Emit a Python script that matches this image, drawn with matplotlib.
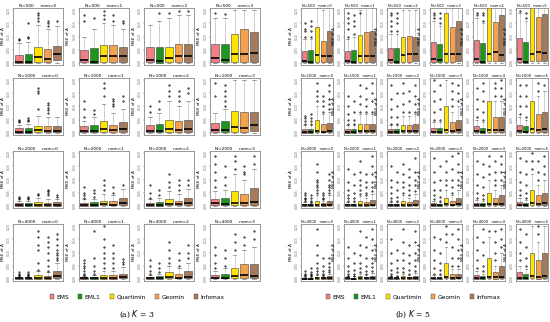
import matplotlib
matplotlib.use("Agg")
import matplotlib.pyplot as plt
from matplotlib.patches import Patch

plt.rcParams['font.family'] = ['DejaVu Sans']
plt.rcParams['mathtext.fontset'] = 'dejavusans'

methods = ['EMS', 'EML1', 'Quartimin', 'Geomin', 'Infomax']
colors = ['#F08080', '#1E961E', '#FFE300', '#F5A04A', '#A67B5B']
sample_sizes = [500, 1000, 2000, 4000]
lower_whisker = 0.0

# ---- K = 3 : rows = N, cols = nom 0..3, 5 methods per cell ----
k3_q1 = [
    [[0.001, 0.001, 0.003, 0.003, 0.010], [0.002, 0.001, 0.005, 0.005, 0.005], [0.002, 0.001, 0.002, 0.004, 0.004], [0.003, 0.002, 0.003, 0.003, 0.005]],
    [[0.001, 0.001, 0.002, 0.002, 0.002], [0.002, 0.002, 0.002, 0.002, 0.003], [0.002, 0.002, 0.003, 0.003, 0.003], [0.003, 0.002, 0.004, 0.004, 0.006]],
    [[0.001, 0.001, 0.001, 0.001, 0.001], [0.001, 0.001, 0.002, 0.002, 0.002], [0.001, 0.001, 0.002, 0.002, 0.003], [0.002, 0.002, 0.003, 0.003, 0.004]],
    [[0.001, 0.001, 0.001, 0.001, 0.002], [0.001, 0.001, 0.001, 0.001, 0.002], [0.001, 0.001, 0.002, 0.002, 0.002], [0.002, 0.002, 0.003, 0.004, 0.003]],
]
k3_med = [
    [[0.005, 0.005, 0.022, 0.015, 0.035], [0.010, 0.005, 0.026, 0.026, 0.025], [0.010, 0.007, 0.020, 0.025, 0.025], [0.018, 0.012, 0.032, 0.035, 0.038]],
    [[0.004, 0.004, 0.010, 0.008, 0.008], [0.006, 0.006, 0.015, 0.010, 0.013], [0.008, 0.008, 0.015, 0.012, 0.015], [0.012, 0.010, 0.022, 0.019, 0.029]],
    [[0.003, 0.003, 0.004, 0.004, 0.005], [0.004, 0.004, 0.006, 0.005, 0.010], [0.004, 0.004, 0.008, 0.006, 0.010], [0.010, 0.006, 0.010, 0.010, 0.016]],
    [[0.002, 0.002, 0.004, 0.003, 0.010], [0.002, 0.003, 0.004, 0.004, 0.006], [0.003, 0.003, 0.006, 0.005, 0.008], [0.005, 0.005, 0.010, 0.015, 0.010]],
]
k3_q3 = [
    [[0.030, 0.033, 0.062, 0.053, 0.063], [0.050, 0.058, 0.067, 0.067, 0.062], [0.060, 0.062, 0.062, 0.073, 0.070], [0.070, 0.070, 0.110, 0.130, 0.118]],
    [[0.017, 0.020, 0.028, 0.025, 0.025], [0.025, 0.030, 0.045, 0.030, 0.040], [0.030, 0.035, 0.050, 0.045, 0.050], [0.036, 0.046, 0.084, 0.079, 0.078]],
    [[0.010, 0.010, 0.013, 0.012, 0.013], [0.012, 0.013, 0.020, 0.017, 0.030], [0.012, 0.014, 0.025, 0.020, 0.030], [0.025, 0.029, 0.056, 0.046, 0.066]],
    [[0.004, 0.004, 0.015, 0.012, 0.030], [0.006, 0.008, 0.015, 0.015, 0.020], [0.008, 0.010, 0.025, 0.020, 0.030], [0.015, 0.020, 0.040, 0.055, 0.055]],
]
k3_whi = [
    [[0.075, 0.080, 0.145, 0.130, 0.140], [0.100, 0.130, 0.150, 0.145, 0.130], [0.145, 0.160, 0.170, 0.180, 0.180], [0.170, 0.170, 0.200, 0.200, 0.200]],
    [[0.030, 0.035, 0.065, 0.060, 0.060], [0.045, 0.060, 0.110, 0.075, 0.090], [0.060, 0.075, 0.120, 0.100, 0.120], [0.075, 0.090, 0.200, 0.200, 0.200]],
    [[0.020, 0.020, 0.030, 0.028, 0.028], [0.025, 0.028, 0.045, 0.040, 0.065], [0.025, 0.030, 0.055, 0.045, 0.065], [0.055, 0.060, 0.120, 0.100, 0.140]],
    [[0.008, 0.008, 0.030, 0.025, 0.060], [0.012, 0.015, 0.030, 0.030, 0.045], [0.015, 0.020, 0.050, 0.040, 0.060], [0.030, 0.040, 0.090, 0.110, 0.120]],
]
k3_fliers = [
    [[[0.085, 0.09], [0.095, 0.10, 0.15], [0.16, 0.17, 0.18, 0.19], [0.14, 0.15, 0.16], [0.16]],
     [[0.16, 0.18], [0.17], [0.165, 0.18, 0.195], [0.16, 0.18], [0.15, 0.16]],
     [[], [0.19], [0.19], [0.195], [0.195]],
     [[0.19], [0.185], [], [], []]],
    [[[0.04, 0.045, 0.05], [0.045, 0.05, 0.055], [0.09, 0.15, 0.16, 0.17], [0.075, 0.085, 0.095, 0.105, 0.115], []],
     [[0.06, 0.09, 0.12], [0.07, 0.085], [0.14, 0.17, 0.19], [0.10, 0.11, 0.12, 0.13], [0.12, 0.14]],
     [[0.08, 0.10], [0.09, 0.12], [0.14, 0.16, 0.18], [0.12, 0.14, 0.16], [0.15, 0.17]],
     [[0.14, 0.19], [0.10, 0.12, 0.14, 0.16, 0.18], [], [], []]],
    [[[0.025, 0.03, 0.035], [0.025, 0.03, 0.035], [0.04, 0.045], [0.04, 0.05, 0.055, 0.06], [0.035, 0.04]],
     [[0.03, 0.04, 0.05, 0.07], [0.035, 0.05, 0.06], [0.06, 0.08, 0.10], [0.05, 0.07], [0.08]],
     [[0.03, 0.05, 0.08], [0.04, 0.06], [0.07, 0.09, 0.12], [0.06, 0.08, 0.10], [0.08, 0.10]],
     [[0.07, 0.10, 0.13, 0.16, 0.19], [0.08, 0.11, 0.15], [0.14, 0.17, 0.19], [0.12, 0.13, 0.15], [0.16, 0.19]]],
    [[[0.012, 0.015, 0.02, 0.025], [0.012, 0.016, 0.02, 0.025], [0.035, 0.06, 0.11, 0.13, 0.16, 0.18],
      [0.03, 0.05, 0.07, 0.10, 0.12, 0.14, 0.16], [0.07, 0.08, 0.09, 0.10, 0.11, 0.13, 0.15, 0.17]],
     [[0.015, 0.02, 0.03, 0.04, 0.05, 0.06, 0.07], [0.02, 0.03, 0.05, 0.08, 0.18], [0.04, 0.06, 0.08, 0.10, 0.12, 0.15, 0.20],
      [0.04, 0.06, 0.08, 0.10, 0.13], [0.055, 0.065, 0.075]],
     [[0.02, 0.03, 0.05, 0.07], [0.025, 0.04, 0.06], [0.06, 0.08, 0.11, 0.14], [0.05, 0.07, 0.10], [0.08, 0.10, 0.13]],
     [[0.04, 0.06, 0.09, 0.12], [0.05, 0.08, 0.11], [0.11, 0.14, 0.17], [0.13, 0.16], [0.15, 0.18]]],
]

# ---- K = 5 : rows = N, cols = nom 0..5 ----
k5_q1 = [
    [[0.002, 0.001, 0.004, 0.004, 0.005], [0.002, 0.001, 0.004, 0.004, 0.005], [0.002, 0.001, 0.005, 0.005, 0.006],
     [0.003, 0.002, 0.005, 0.005, 0.006], [0.003, 0.001, 0.006, 0.006, 0.006], [0.003, 0.001, 0.006, 0.007, 0.007]],
    [[0.001, 0.001, 0.002, 0.002, 0.002], [0.001, 0.001, 0.002, 0.002, 0.002], [0.001, 0.001, 0.002, 0.002, 0.002],
     [0.002, 0.001, 0.003, 0.002, 0.003], [0.002, 0.001, 0.003, 0.003, 0.003], [0.002, 0.002, 0.004, 0.003, 0.004]],
    [[0.001, 0.001, 0.001, 0.001, 0.002], [0.001, 0.001, 0.001, 0.001, 0.002], [0.001, 0.001, 0.001, 0.001, 0.002],
     [0.001, 0.001, 0.002, 0.002, 0.002], [0.001, 0.001, 0.002, 0.002, 0.002], [0.002, 0.001, 0.003, 0.002, 0.003]],
    [[0.0005, 0.0005, 0.001, 0.001, 0.001], [0.0005, 0.0005, 0.001, 0.001, 0.001], [0.0005, 0.0005, 0.001, 0.001, 0.001],
     [0.001, 0.001, 0.002, 0.001, 0.002], [0.001, 0.001, 0.002, 0.001, 0.002], [0.001, 0.001, 0.002, 0.001, 0.002]],
]
k5_med = [
    [[0.006, 0.002, 0.030, 0.026, 0.027], [0.006, 0.004, 0.025, 0.026, 0.028], [0.010, 0.004, 0.030, 0.032, 0.032],
     [0.015, 0.010, 0.032, 0.032, 0.032], [0.015, 0.005, 0.035, 0.040, 0.030], [0.015, 0.005, 0.035, 0.042, 0.038]],
    [[0.004, 0.003, 0.006, 0.005, 0.008], [0.004, 0.003, 0.006, 0.006, 0.008], [0.004, 0.004, 0.007, 0.006, 0.008],
     [0.005, 0.004, 0.010, 0.008, 0.010], [0.006, 0.004, 0.012, 0.010, 0.012], [0.007, 0.005, 0.015, 0.012, 0.015]],
    [[0.003, 0.002, 0.004, 0.003, 0.005], [0.003, 0.002, 0.004, 0.004, 0.005], [0.003, 0.003, 0.004, 0.004, 0.005],
     [0.003, 0.003, 0.006, 0.005, 0.006], [0.004, 0.003, 0.008, 0.006, 0.008], [0.005, 0.004, 0.010, 0.008, 0.010]],
    [[0.001, 0.001, 0.002, 0.002, 0.003], [0.002, 0.001, 0.003, 0.002, 0.003], [0.002, 0.002, 0.003, 0.003, 0.004],
     [0.002, 0.002, 0.006, 0.004, 0.005], [0.004, 0.003, 0.008, 0.006, 0.008], [0.005, 0.004, 0.010, 0.008, 0.010]],
]
k5_q3 = [
    [[0.045, 0.047, 0.135, 0.083, 0.122], [0.045, 0.048, 0.106, 0.117, 0.120], [0.055, 0.055, 0.100, 0.103, 0.100],
     [0.078, 0.070, 0.190, 0.137, 0.160], [0.085, 0.075, 0.250, 0.155, 0.180], [0.095, 0.080, 0.250, 0.175, 0.185]],
    [[0.015, 0.015, 0.050, 0.035, 0.038], [0.015, 0.015, 0.032, 0.035, 0.035], [0.015, 0.015, 0.030, 0.030, 0.035],
     [0.020, 0.020, 0.100, 0.040, 0.050], [0.025, 0.020, 0.120, 0.060, 0.060], [0.030, 0.025, 0.120, 0.070, 0.080]],
    [[0.008, 0.006, 0.020, 0.010, 0.020], [0.008, 0.008, 0.018, 0.015, 0.022], [0.008, 0.008, 0.020, 0.015, 0.022],
     [0.010, 0.008, 0.030, 0.020, 0.030], [0.012, 0.010, 0.050, 0.030, 0.040], [0.015, 0.012, 0.060, 0.040, 0.050]],
    [[0.004, 0.004, 0.008, 0.006, 0.010], [0.005, 0.005, 0.010, 0.008, 0.012], [0.005, 0.005, 0.010, 0.008, 0.012],
     [0.005, 0.005, 0.060, 0.018, 0.018], [0.015, 0.010, 0.080, 0.025, 0.050], [0.025, 0.018, 0.100, 0.070, 0.100]],
]
k5_whi = [
    [[0.09, 0.09, 0.25, 0.20, 0.25], [0.09, 0.10, 0.20, 0.25, 0.25], [0.11, 0.11, 0.20, 0.20, 0.20],
     [0.16, 0.14, 0.25, 0.25, 0.25], [0.17, 0.15, 0.30, 0.30, 0.30], [0.19, 0.16, 0.30, 0.30, 0.30]],
    [[0.03, 0.03, 0.10, 0.07, 0.08], [0.03, 0.03, 0.07, 0.07, 0.07], [0.03, 0.03, 0.065, 0.065, 0.07],
     [0.04, 0.04, 0.20, 0.08, 0.10], [0.05, 0.04, 0.25, 0.12, 0.12], [0.06, 0.05, 0.25, 0.14, 0.16]],
    [[0.016, 0.012, 0.04, 0.02, 0.04], [0.016, 0.016, 0.036, 0.03, 0.044], [0.016, 0.016, 0.04, 0.03, 0.044],
     [0.02, 0.016, 0.06, 0.04, 0.06], [0.024, 0.02, 0.10, 0.06, 0.08], [0.03, 0.024, 0.12, 0.08, 0.10]],
    [[0.008, 0.008, 0.016, 0.012, 0.02], [0.01, 0.01, 0.02, 0.016, 0.024], [0.01, 0.01, 0.02, 0.016, 0.024],
     [0.016, 0.016, 0.12, 0.036, 0.036], [0.03, 0.02, 0.16, 0.05, 0.10], [0.05, 0.036, 0.20, 0.14, 0.20]],
]
k5_fliers = [
    [[[0.10, 0.12, 0.13, 0.15], [0.10, 0.12, 0.14, 0.16], [], [], []],
     [[0.10, 0.13, 0.15, 0.17, 0.19], [0.11, 0.14, 0.16, 0.18], [0.19], [], []],
     [[0.12, 0.14, 0.16, 0.18, 0.19], [0.12, 0.15, 0.17, 0.19], [], [], []],
     [[0.17, 0.18, 0.19], [0.15, 0.17, 0.19], [], [], []],
     [[0.18, 0.19], [0.16, 0.18, 0.19], [], [], []],
     [[0.195], [0.17, 0.19], [], [], []]],
    [[[0.035, 0.045, 0.055, 0.065], [0.035, 0.045, 0.055, 0.07], [0.12, 0.14, 0.16, 0.19], [0.08, 0.10, 0.12, 0.14], [0.09, 0.11, 0.13, 0.16, 0.18]],
     [[0.035, 0.05, 0.07, 0.10, 0.14], [0.035, 0.05, 0.08, 0.12], [0.08, 0.11, 0.14, 0.18], [0.08, 0.10, 0.13, 0.17], [0.08, 0.12, 0.15, 0.19]],
     [[0.035, 0.06, 0.09, 0.13, 0.18], [0.035, 0.06, 0.10, 0.15], [0.08, 0.11, 0.15, 0.19], [0.08, 0.12, 0.16], [0.08, 0.11, 0.14, 0.18]],
     [[0.05, 0.08, 0.12, 0.16, 0.20], [0.05, 0.09, 0.13, 0.18], [], [0.10, 0.13, 0.16, 0.19], [0.12, 0.15, 0.18]],
     [[0.06, 0.09, 0.13, 0.17], [0.05, 0.08, 0.12, 0.16, 0.19], [], [0.14, 0.17, 0.19], [0.14, 0.17, 0.20]],
     [[0.07, 0.10, 0.14, 0.18], [0.06, 0.10, 0.14, 0.18], [], [0.16, 0.19], [0.18]]],
    [[[0.02, 0.025, 0.03, 0.04, 0.05], [0.015, 0.02, 0.03, 0.04], [0.05, 0.06, 0.07, 0.08, 0.09, 0.10, 0.13, 0.16], [0.025, 0.03, 0.04, 0.05], [0.05, 0.06, 0.07, 0.08, 0.10, 0.12]],
     [[0.02, 0.03, 0.04, 0.06, 0.09, 0.14], [0.02, 0.03, 0.05, 0.08, 0.12], [0.045, 0.06, 0.08, 0.10, 0.13, 0.17], [0.04, 0.05, 0.07, 0.09, 0.12], [0.055, 0.07, 0.09, 0.12, 0.15, 0.19]],
     [[0.02, 0.03, 0.05, 0.07, 0.10, 0.15], [0.02, 0.035, 0.06, 0.09, 0.13], [0.05, 0.07, 0.09, 0.12, 0.16], [0.04, 0.06, 0.08, 0.11, 0.14], [0.055, 0.08, 0.10, 0.13, 0.18]],
     [[0.025, 0.04, 0.06, 0.09, 0.13, 0.18], [0.02, 0.035, 0.06, 0.10, 0.15], [0.08, 0.10, 0.13, 0.17], [0.05, 0.07, 0.10, 0.14, 0.19], [0.08, 0.10, 0.13, 0.16, 0.20]],
     [[0.03, 0.05, 0.08, 0.12, 0.17], [0.025, 0.04, 0.07, 0.11, 0.16], [0.12, 0.15, 0.19], [0.08, 0.10, 0.13, 0.17], [0.10, 0.13, 0.16, 0.19]],
     [[0.04, 0.06, 0.09, 0.13, 0.18], [0.03, 0.05, 0.08, 0.12, 0.17], [0.14, 0.17, 0.20], [0.10, 0.13, 0.17], [0.12, 0.15, 0.19]]],
    [[[0.01, 0.015, 0.02, 0.03], [0.01, 0.014, 0.02, 0.025, 0.04], [0.02, 0.03, 0.04, 0.06, 0.09, 0.13, 0.19], [0.015, 0.02, 0.03, 0.05, 0.08], [0.025, 0.035, 0.045, 0.06, 0.08]],
     [[0.012, 0.02, 0.03, 0.05, 0.08, 0.12], [0.012, 0.02, 0.035, 0.06, 0.10], [0.025, 0.04, 0.06, 0.09, 0.13, 0.18], [0.02, 0.03, 0.05, 0.08, 0.12, 0.16], [0.03, 0.045, 0.06, 0.08, 0.11, 0.15, 0.19]],
     [[0.012, 0.02, 0.035, 0.06, 0.10, 0.15], [0.012, 0.025, 0.04, 0.07, 0.11], [0.025, 0.04, 0.07, 0.10, 0.14, 0.19], [0.02, 0.035, 0.06, 0.09, 0.13], [0.03, 0.05, 0.07, 0.10, 0.14, 0.18]],
     [[0.02, 0.04, 0.07, 0.11, 0.16], [0.02, 0.035, 0.06, 0.10, 0.15], [0.14, 0.17, 0.20], [0.05, 0.08, 0.12, 0.17], [0.05, 0.08, 0.11, 0.15, 0.19]],
     [[0.04, 0.07, 0.11, 0.16], [0.03, 0.05, 0.09, 0.14, 0.19], [0.18], [0.07, 0.10, 0.14, 0.18], [0.12, 0.15, 0.19]],
     [[0.07, 0.10, 0.14, 0.19], [0.05, 0.08, 0.12, 0.17], [], [0.17, 0.20], []]],
]

W, H = 550, 322
fig = plt.figure(figsize=(W / 100, H / 100), dpi=100)

row_tops = [8, 78, 151, 224]
row_h = 57


def draw_cell(left, top, width, r, c, q1, med, q3, whi, fliers, title_fs, gap):
    ax = fig.add_axes([left / W, 1 - (top + row_h) / H, width / W, row_h / H])
    stats = []
    for m in range(5):
        stats.append(dict(q1=q1[r][c][m], med=med[r][c][m], q3=q3[r][c][m],
                          whislo=lower_whisker, whishi=whi[r][c][m],
                          fliers=fliers[r][c][m]))
    bp = ax.bxp(stats, positions=range(1, 6), widths=0.8, patch_artist=True,
                showfliers=True,
                boxprops=dict(linewidth=0.4, edgecolor='#444444'),
                medianprops=dict(color='black', linewidth=1.2),
                whiskerprops=dict(color='#555555', linewidth=0.4, linestyle=(0, (1, 1))),
                capprops=dict(color='#555555', linewidth=0.4),
                flierprops=dict(marker='o', markersize=1.0, markerfacecolor='none',
                                markeredgecolor='black', markeredgewidth=0.5))
    for patch, col in zip(bp['boxes'], colors):
        patch.set_facecolor(col)
    ax.set_xlim(0.4, 5.6)
    ax.set_ylim(-0.008, 0.208)
    ax.set_xticks([])
    ax.set_yticks([0, 0.05, 0.10, 0.15, 0.20])
    ax.set_yticklabels(['0.00', '0.05', '0.10', '0.15', '0.20'], rotation=90,
                       va='center', fontsize=2.2, color='#444444')
    ax.tick_params(axis='y', length=1.0, width=0.3, pad=0.4, colors='#666666')
    ax.set_ylabel(r'MSE of $\hat{A}$', fontsize=3.0, labelpad=0.3)
    ax.set_title(f'N={sample_sizes[r]}{gap}nom={c}', fontsize=title_fs, pad=1.0)
    for s in ax.spines.values():
        s.set_color('#888888')
        s.set_linewidth(0.6)


# left panel: K = 3
for r in range(4):
    for c in range(4):
        draw_cell(13 + 65.5 * c, row_tops[r], 50, r, c, k3_q1, k3_med, k3_q3, k3_whi, k3_fliers,
                  3.1, '     ')

# right panel: K = 5
for r in range(4):
    for c in range(6):
        draw_cell(301 + 43 * c, row_tops[r], 32, r, c, k5_q1, k5_med, k5_q3, k5_whi, k5_fliers,
                  2.6, '   ')

handles = [Patch(facecolor=col, edgecolor='#444444', linewidth=0.3) for col in colors]
for cx in [137, 413]:
    fig.legend(handles, methods, loc='center', bbox_to_anchor=(cx / W, 1 - 297 / H),
               ncol=5, frameon=False, fontsize=4.2, handlelength=0.7, handleheight=0.7,
               handletextpad=0.4, columnspacing=1.6)

fig.text(137 / W, 1 - 314 / H, r'(a) $K$ = 3', ha='center', va='center',
         fontsize=5.5, family='DejaVu Serif')
fig.text(413 / W, 1 - 314 / H, r'(b) $K$ = 5', ha='center', va='center',
         fontsize=5.5, family='DejaVu Serif')

fig.savefig('out.png', dpi=100)
